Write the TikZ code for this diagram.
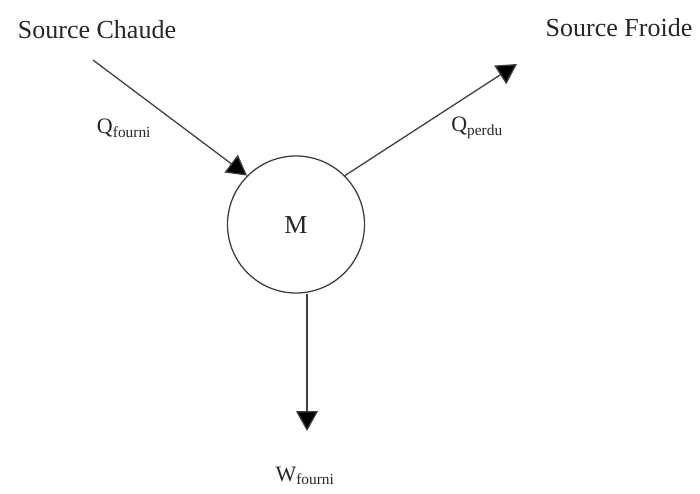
\documentclass[tikz,border=0pt]{standalone}
\usepackage{fontspec}
\setmainfont{Liberation Serif}
\usetikzlibrary{arrows.meta}

\begin{document}
\begin{tikzpicture}[x=1pt,y=-1pt,
  fleche/.style={line width=1.3pt, draw=black!75, -{Triangle[width=22pt,length=20pt,fill=black]}},
  grand/.style={font=\fontsize{26}{30}\selectfont, text=black!85},
  moyen/.style={font=\fontsize{22}{26}\selectfont, text=black!85}]
\useasboundingbox (0,0) rectangle (700,493);

\node[grand] (chaude) at (97,30) {Source Chaude};
\node[grand] (froide) at (619,28) {Source Froide};
\node[grand, draw=black!75, line width=1.3pt, circle, minimum size=137pt, inner sep=0pt] (M) at (296,224.5) {M};
\node[moyen] (qfourni) at (124,128) {Q\textsubscript{fourni}};
\node[moyen] (qperdu) at (477,128) {Q\textsubscript{perdu}};
\node[moyen] (wfourni) at (305,476) {W\textsubscript{fourni}};

%   extremites libres
\coordinate (depart) at (93,60);
\coordinate (arrivee) at (517,64);
\coordinate (travail) at (307,431);

%   fleches
\draw[fleche] (depart) -- (M.north west);
\draw[fleche] (M.north east) -- (arrivee);
\draw[fleche] ([xshift=11pt]M.south) -- (travail);
\end{tikzpicture}
\end{document}
